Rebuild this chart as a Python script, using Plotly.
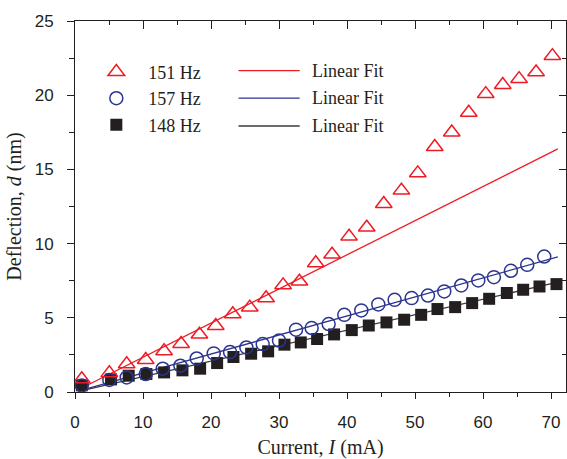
import plotly.graph_objects as go

# ---- data ----
x_151 = [1.0, 5.05, 7.6, 10.4, 13.1, 15.6, 18.3, 20.7, 23.2, 25.7, 28.1, 30.6, 33.0, 35.4,
         37.8, 40.3, 42.9, 45.4, 48.0, 50.4, 52.9, 55.4, 57.9, 60.4, 62.9, 65.3, 67.8, 70.2]
y_151 = [0.87, 1.28, 1.88, 2.17, 2.76, 3.25, 3.88, 4.46, 5.25, 5.7, 6.33, 7.2, 7.45, 8.69,
         9.27, 10.48, 11.09, 12.68, 13.58, 14.75, 16.52, 17.5, 18.83, 20.09, 20.7, 21.1, 21.55, 22.65]

x_157 = [1.0, 5.05, 7.6, 10.4, 12.9, 15.5, 17.9, 20.4, 22.8, 25.2, 27.6, 30.0, 32.5, 34.8,
         37.3, 39.6, 42.1, 44.6, 47.0, 49.5, 51.9, 54.3, 56.8, 59.3, 61.6, 64.1, 66.5, 69.0]
y_157 = [0.44, 0.81, 0.98, 1.21, 1.57, 1.77, 2.26, 2.6, 2.69, 3.0, 3.23, 3.47, 4.2, 4.31,
         4.58, 5.2, 5.5, 5.9, 6.21, 6.33, 6.5, 6.78, 7.18, 7.52, 7.74, 8.17, 8.57, 9.13]

x_148 = [1.0, 5.3, 7.9, 10.5, 13.1, 15.8, 18.4, 20.9, 23.3, 25.9, 28.4, 30.8, 33.2, 35.6,
         38.1, 40.7, 43.2, 45.8, 48.4, 50.9, 53.3, 55.9, 58.4, 60.9, 63.5, 65.9, 68.3, 70.8]
y_148 = [0.45, 0.85, 1.1, 1.21, 1.32, 1.46, 1.57, 1.95, 2.36, 2.58, 2.74, 3.19, 3.34, 3.57,
         3.88, 4.17, 4.48, 4.69, 4.87, 5.2, 5.59, 5.72, 5.99, 6.28, 6.67, 6.89, 7.11, 7.27]

fit_x = [1.0, 71.0]
fit_151 = [0.27, 16.38]
fit_157 = [0.12, 9.1]
fit_148 = [0.1, 7.4]

names = ["151 Hz", "157 Hz", "148 Hz"]
fit_label = "Linear Fit"

RED = "#ed1c24"
BLUE = "#2b3590"
BLACK = "#231f20"
FITBLACK = "#3a3a3a"

SERIF = "Liberation Serif, Times New Roman, serif"
SANS = "Liberation Sans, Arial, sans-serif"

fig = go.Figure()

# fits (drawn under markers)
fig.add_trace(go.Scatter(x=fit_x, y=fit_148, mode="lines", line=dict(color=FITBLACK, width=1.3), showlegend=False))
fig.add_trace(go.Scatter(x=fit_x, y=fit_157, mode="lines", line=dict(color=BLUE, width=1.3), showlegend=False))
fig.add_trace(go.Scatter(x=fit_x, y=fit_151, mode="lines", line=dict(color=RED, width=1.3), showlegend=False))

fig.add_trace(go.Scatter(x=x_148, y=y_148, mode="markers", name=names[2], legendrank=3,
                         marker=dict(symbol="square", size=12, color=BLACK, line=dict(width=0))))
fig.add_trace(go.Scatter(x=x_157, y=y_157, mode="markers", name=names[1], legendrank=2,
                         marker=dict(symbol="circle-open", size=13, color=BLUE, line=dict(width=1.5))))
fig.add_trace(go.Scatter(x=x_151, y=y_151, mode="markers", name=names[0], legendrank=1,
                         marker=dict(symbol="triangle-up-open", size=14.5, color=RED, line=dict(width=1.5))))

# dummy trace for the mirror axes (top/right with inward ticks)
fig.add_trace(go.Scatter(x=[None], y=[None], xaxis="x2", yaxis="y2", showlegend=False, hoverinfo="skip"))

# second legend column (fit lines)
fit_colors = [RED, BLUE, FITBLACK]
row_y = [0.866, 0.792, 0.717]
for c, ry in zip(fit_colors, row_y):
    fig.add_shape(type="line", xref="paper", yref="paper", x0=0.333, x1=0.4576, y0=ry, y1=ry,
                  line=dict(color=c, width=1.3))
    fig.add_annotation(xref="paper", yref="paper", x=0.479, y=ry, text=fit_label, showarrow=False,
                       xanchor="left", yanchor="middle", font=dict(family=SERIF, size=18, color=BLACK))

XR = [0, 72.2]
YR = [0, 25]
axis_common = dict(showgrid=False, zeroline=False, showline=True, linecolor=BLACK, linewidth=1,
                   tickcolor=BLACK, tickwidth=1, automargin=False)

fig.update_layout(
    width=567, height=459,
    margin=dict(l=74.6, r=1, t=21, b=66.7),
    paper_bgcolor="white", plot_bgcolor="white",
    xaxis=dict(range=XR, dtick=10, tick0=0, ticks="outside", ticklen=6, ticklabelstandoff=9,
               minor=dict(dtick=5, ticks="outside", ticklen=4, tickcolor=BLACK),
               tickfont=dict(family=SANS, size=17, color=BLACK),
               title=dict(text="Current, <i>I</i> (mA)", font=dict(family=SERIF, size=20, color=BLACK), standoff=15),
               **axis_common),
    yaxis=dict(range=YR, dtick=5, tick0=0, ticks="outside", ticklen=7, ticklabelstandoff=10,
               minor=dict(dtick=2.5, ticks="outside", ticklen=5, tickcolor=BLACK),
               tickfont=dict(family=SANS, size=17, color=BLACK),
               title=dict(text="Deflection, <i>d</i> (nm)", font=dict(family=SERIF, size=20, color=BLACK), standoff=7),
               **axis_common),
    xaxis2=dict(range=XR, overlaying="x", side="top", dtick=10, tick0=0, ticks="inside", ticklen=8,
                minor=dict(dtick=5, ticks="inside", ticklen=4, tickcolor=BLACK),
                showticklabels=False, **axis_common),
    yaxis2=dict(range=YR, overlaying="y", side="right", dtick=5, tick0=0, ticks="inside", ticklen=7,
                minor=dict(dtick=2.5, ticks="inside", ticklen=4, tickcolor=BLACK),
                showticklabels=False, **axis_common),
    showlegend=True,
    legend=dict(x=0.019, y=0.912, xanchor="left", yanchor="top", bgcolor="rgba(0,0,0,0)",
                font=dict(family=SERIF, size=18, color=BLACK), itemwidth=54, tracegroupgap=0),
)

fig.write_html("out.html")
